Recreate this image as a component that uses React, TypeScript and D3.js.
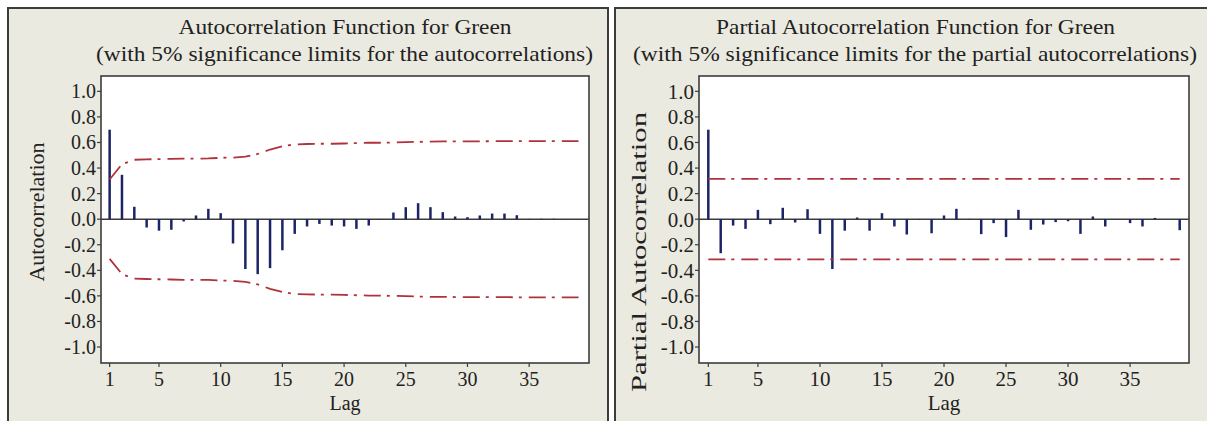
import React from 'react';
import * as d3 from 'd3';

// lag values
const acfValues = [
  0.70, 0.347, 0.097, -0.065, -0.09, -0.083, -0.018, 0.029, 0.081, 0.047,
  -0.19, -0.39, -0.43, -0.383, -0.243, -0.115, -0.057, -0.037, -0.05, -0.057,
  -0.076, -0.05, -0.003, 0.052, 0.094, 0.125, 0.094, 0.055, 0.021, 0.016,
  0.029, 0.044, 0.044, 0.031, 0.002, 0.003, 0.003, 0.001, 0.001,
];
// 5% limits for the autocorrelations (upper; lower is the mirror)
const acfLimits = [
  0.31, 0.43, 0.465, 0.468, 0.47, 0.472, 0.474, 0.474, 0.475, 0.48,
  0.482, 0.49, 0.51, 0.545, 0.57, 0.585, 0.588, 0.59, 0.59, 0.592,
  0.595, 0.598, 0.598, 0.6, 0.602, 0.605, 0.607, 0.608, 0.609, 0.609,
  0.609, 0.61, 0.61, 0.611, 0.611, 0.611, 0.611, 0.611, 0.611,
];
const pacfValues = [
  0.70, -0.266, -0.05, -0.076, 0.073, -0.039, 0.089, -0.026, 0.078, -0.115,
  -0.39, -0.09, 0.013, -0.09, 0.047, -0.057, -0.12, -0.005, -0.11, 0.029,
  0.081, 0.002, -0.117, -0.031, -0.14, 0.073, -0.083, -0.042, -0.023, -0.016,
  -0.115, 0.021, -0.057, -0.003, -0.031, -0.057, 0.01, 0.001, -0.086,
];
const pacfLimits = acfValues.map(() => 0.315);

const yTicks = [1.0, 0.8, 0.6, 0.4, 0.2, 0.0, -0.2, -0.4, -0.6, -0.8, -1.0];
const xTicks = [1, 5, 10, 15, 20, 25, 30, 35];

const FONT = 'Liberation Serif';
const BAR = '#1c2466';
const LIMIT = '#b0323a';
const FRAME = '#3c3c3c';
const BEIGE = '#ebeae0';

function Panel({ frameX, plot, xDomain, titles, yLabel, values, limits, fs }) {
  const x = d3.scaleLinear().domain(xDomain).range([plot.left, plot.right]);
  const y = d3.scaleLinear().domain([-1.125, 1.12]).range([plot.bottom, plot.top]);
  const lags = values.map((_, i) => i + 1);
  const limitLine = d3.line().x((d) => x(d[0])).y((d) => y(d[1]));
  const up = lags.map((l, i) => [l, limits[i]]);
  const lo = lags.map((l, i) => [l, -limits[i]]);

  return (
    <g fontFamily={FONT} fill="#222">
      <rect x={frameX} y={8} width={600} height={430} fill={BEIGE} stroke={FRAME} strokeWidth={2} />
      {titles.map((t, i) => (
        <text key={i} x={t.cx} y={t.y} textAnchor="middle" fontSize={21}
          textLength={t.w} lengthAdjust="spacingAndGlyphs">{t.text}</text>
      ))}
      <rect x={plot.left} y={plot.top} width={plot.right - plot.left} height={plot.bottom - plot.top}
        fill="#fff" stroke={FRAME} strokeWidth={1.6} />
      {/* y axis */}
      {yTicks.map((t) => (
        <g key={t}>
          <line x1={plot.left - 4} x2={plot.left} y1={y(t)} y2={y(t)} stroke={FRAME} strokeWidth={1.2} />
          <text x={plot.left - 5} y={y(t)} dy="0.35em" textAnchor="end" fontSize={fs}>
            {t.toFixed(1)}
          </text>
        </g>
      ))}
      <text transform={`translate(${yLabel.x},${yLabel.cy}) rotate(-90)`} textAnchor="middle"
        fontSize={fs} textLength={yLabel.len} lengthAdjust="spacingAndGlyphs">
        {yLabel.text}
      </text>
      {/* x axis */}
      {xTicks.map((t) => (
        <g key={t}>
          <line x1={x(t)} x2={x(t)} y1={plot.bottom} y2={plot.bottom + 4} stroke={FRAME} strokeWidth={1.2} />
          <text x={x(t)} y={386} textAnchor="middle" fontSize={fs}>{t}</text>
        </g>
      ))}
      <text x={(plot.left + plot.right) / 2} y={410} textAnchor="middle" fontSize={fs}>Lag</text>
      {/* zero line */}
      <line x1={plot.left} x2={plot.right} y1={y(0)} y2={y(0)} stroke={FRAME} strokeWidth={1.4} />
      {/* bars */}
      {values.map((v, i) => (
        <line key={i} x1={x(lags[i])} x2={x(lags[i])} y1={y(0)} y2={y(v)} stroke={BAR} strokeWidth={2.5} />
      ))}
      {/* limits */}
      <path d={limitLine(up)} fill="none" stroke={LIMIT} strokeWidth={1.8} strokeDasharray="17,6,3,7" />
      <path d={limitLine(lo)} fill="none" stroke={LIMIT} strokeWidth={1.8} strokeDasharray="17,6,3,7" />
    </g>
  );
}

export default function App() {
  return (
    <svg width={1207} height={421} style={{ position: 'absolute', left: 0, top: 0 }}>
      <rect width={1207} height={421} fill="#fff" />
      <Panel
        frameX={8}
        plot={{ left: 101, right: 589, top: 76, bottom: 363 }}
        xDomain={[0.3, 39.85]}
        titles={[
          { text: 'Autocorrelation Function for Green', cx: 345, y: 34, w: 333 },
          { text: '(with 5% significance limits for the autocorrelations)', cx: 344.5, y: 61, w: 497 },
        ]}
        yLabel={{ text: 'Autocorrelation', x: 44, cy: 212, len: 139 }}
        values={acfValues}
        limits={acfLimits}
        fs={20}
      />
      <Panel
        frameX={615}
        plot={{ left: 699, right: 1189, top: 76, bottom: 363 }}
        xDomain={[0.25, 39.75]}
        titles={[
          { text: 'Partial Autocorrelation Function for Green', cx: 915.5, y: 34, w: 399 },
          { text: '(with 5% significance limits for the partial autocorrelations)', cx: 915, y: 61, w: 564 },
        ]}
        yLabel={{ text: 'Partial Autocorrelation', x: 646, cy: 252, len: 280 }}
        values={pacfValues}
        limits={pacfLimits}
        fs={21}
      />
    </svg>
  );
}
